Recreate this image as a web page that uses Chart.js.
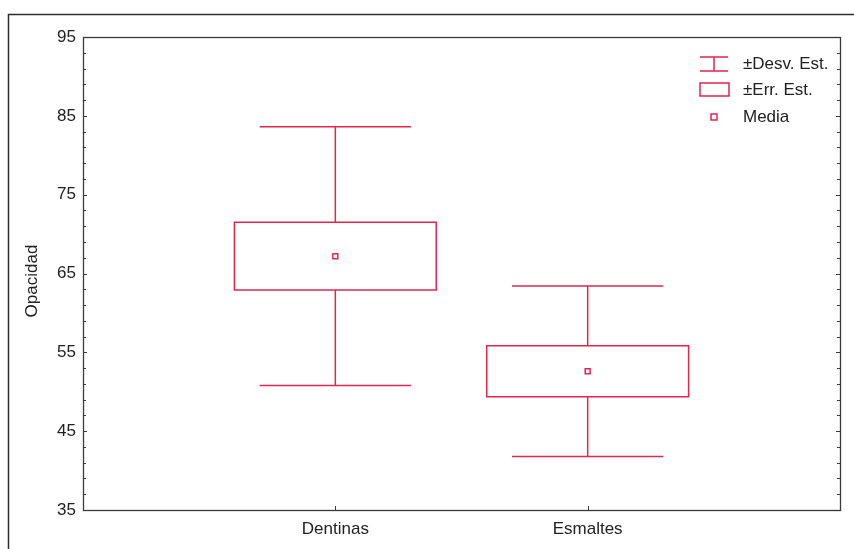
<!DOCTYPE html>
<html>
<head>
<meta charset="utf-8">
<script src="https://cdn.jsdelivr.net/npm/chart.js@4"></script>
<style>
  html, body { margin: 0; padding: 0; background: #fff; }
  #wrap { width: 854px; height: 549px; }
</style>
</head>
<body>
<div id="wrap"><canvas id="c" width="854" height="549"></canvas></div>
<script>
// Groups and their summary statistics (Opacidad)
const categories = ['Dentinas', 'Esmaltes'];
const categoryPos = [1, 2];
const means = [67.2, 52.6];
const stdErr = [4.3, 3.25];
const stdDev = [16.4, 10.8];
const yTicks = [35, 45, 55, 65, 75, 85, 95];
const yTitle = 'Opacidad';
const legendLabels = ['±Desv. Est.', '±Err. Est.', 'Media'];

const RED = '#e2264f';
const AXIS = '#3a3a3a';
const FONT = '"Liberation Sans", Arial, sans-serif';

// Box (±SE) and whisker (±SD) drawing, plus frame, ticks, axis title and legend
const boxPlugin = {
  id: 'boxPlugin',
  beforeDraw(chart) {
    const ctx = chart.ctx;
    ctx.save();
    ctx.fillStyle = '#fff';
    ctx.fillRect(0, 0, chart.width, chart.height);
    // outer frame
    ctx.strokeStyle = '#2e2e2e';
    ctx.lineWidth = 1.5;
    ctx.beginPath();
    ctx.moveTo(8.5, chart.height);
    ctx.lineTo(8.5, 14.5);
    ctx.lineTo(chart.width, 14.5);
    ctx.stroke();
    // y axis title
    ctx.translate(32, 281);
    ctx.rotate(-Math.PI / 2);
    ctx.fillStyle = '#222';
    ctx.font = '17px ' + FONT;
    ctx.textAlign = 'center';
    ctx.textBaseline = 'middle';
    ctx.fillText(yTitle, 0, 0);
    ctx.restore();
  },
  afterDatasetsDraw(chart) {
    const ctx = chart.ctx;
    const x = chart.scales.x, y = chart.scales.y;
    const a = chart.chartArea;
    ctx.save();
    // plot border
    ctx.strokeStyle = AXIS;
    ctx.lineWidth = 1.3;
    ctx.strokeRect(a.left + 0.5, a.top + 0.5, a.right - a.left, a.bottom - a.top);
    // inward tick marks on the left and right axes
    ctx.lineWidth = 1;
    ctx.beginPath();
    for (let v = 35; v <= 95; v += 2) {
      const py = Math.round(y.getPixelForValue(v)) + 0.5;
      const len = (v - 35) % 10 === 0 ? 4 : 3;
      ctx.moveTo(a.left, py); ctx.lineTo(a.left + len, py);
      ctx.moveTo(a.right, py); ctx.lineTo(a.right - len, py);
    }
    categoryPos.forEach(p => {
      const px = Math.round(x.getPixelForValue(p)) + 0.5;
      ctx.moveTo(px, a.bottom); ctx.lineTo(px, a.bottom - 4);
    });
    ctx.stroke();

    // boxes and whiskers
    ctx.strokeStyle = RED;
    ctx.lineWidth = 1.5;
    categoryPos.forEach((p, i) => {
      const cx = x.getPixelForValue(p);
      const bl = x.getPixelForValue(p - 0.4), br = x.getPixelForValue(p + 0.4);
      const wl = x.getPixelForValue(p - 0.3), wr = x.getPixelForValue(p + 0.3);
      const bTop = y.getPixelForValue(means[i] + stdErr[i]);
      const bBot = y.getPixelForValue(means[i] - stdErr[i]);
      const wTop = y.getPixelForValue(means[i] + stdDev[i]);
      const wBot = y.getPixelForValue(means[i] - stdDev[i]);
      ctx.beginPath();
      ctx.rect(bl, bTop, br - bl, bBot - bTop);
      ctx.moveTo(cx, bTop); ctx.lineTo(cx, wTop);
      ctx.moveTo(wl, wTop); ctx.lineTo(wr, wTop);
      ctx.moveTo(cx, bBot); ctx.lineTo(cx, wBot);
      ctx.moveTo(wl, wBot); ctx.lineTo(wr, wBot);
      ctx.stroke();
    });

    // legend
    const lx = a.right - 140, ly = a.top + 27;
    ctx.beginPath();
    ctx.moveTo(lx, ly - 7); ctx.lineTo(lx + 28, ly - 7);
    ctx.moveTo(lx + 14, ly - 7); ctx.lineTo(lx + 14, ly + 7);
    ctx.moveTo(lx, ly + 7); ctx.lineTo(lx + 28, ly + 7);
    ctx.rect(lx, ly + 19, 29, 13);
    ctx.rect(lx + 11, ly + 50, 6, 6);
    ctx.stroke();
    ctx.fillStyle = '#222';
    ctx.font = '17px ' + FONT;
    ctx.textBaseline = 'middle';
    ctx.textAlign = 'left';
    ctx.fillText(legendLabels[0], lx + 43, ly);
    ctx.fillText(legendLabels[1], lx + 43, ly + 26);
    ctx.fillText(legendLabels[2], lx + 43, ly + 53);
    ctx.restore();
  }
};

new Chart(document.getElementById('c'), {
  type: 'scatter',
  data: {
    datasets: [{
      label: legendLabels[2],
      data: categoryPos.map((p, i) => ({ x: p, y: means[i] })),
      pointStyle: 'rect',
      pointRadius: 3.5,
      pointBorderWidth: 1.5,
      pointBorderColor: RED,
      pointBackgroundColor: '#fff'
    }]
  },
  options: {
    responsive: false,
    animation: false,
    events: [],
    layout: { padding: { left: 0, top: 37, right: 14, bottom: 0 } },
    plugins: { legend: { display: false }, tooltip: { enabled: false } },
    scales: {
      x: {
        type: 'linear', min: 0, max: 3,
        afterFit(s) { s.height = 39; },
        afterBuildTicks(s) { s.ticks = categoryPos.map(v => ({ value: v })); },
        grid: { display: false, drawTicks: false },
        border: { display: false },
        ticks: {
          padding: 9,
          color: '#222',
          font: { family: FONT, size: 17 },
          callback: v => categories[categoryPos.indexOf(v)] ?? ''
        }
      },
      y: {
        min: 35, max: 95,
        afterFit(s) { s.width = 83; },
        afterBuildTicks(s) { s.ticks = yTicks.map(v => ({ value: v })); },
        grid: { display: false, drawTicks: false },
        border: { display: false },
        ticks: { padding: 7, color: '#222', font: { family: FONT, size: 17 } }
      }
    }
  },
  plugins: [boxPlugin]
});
</script>
</body>
</html>
